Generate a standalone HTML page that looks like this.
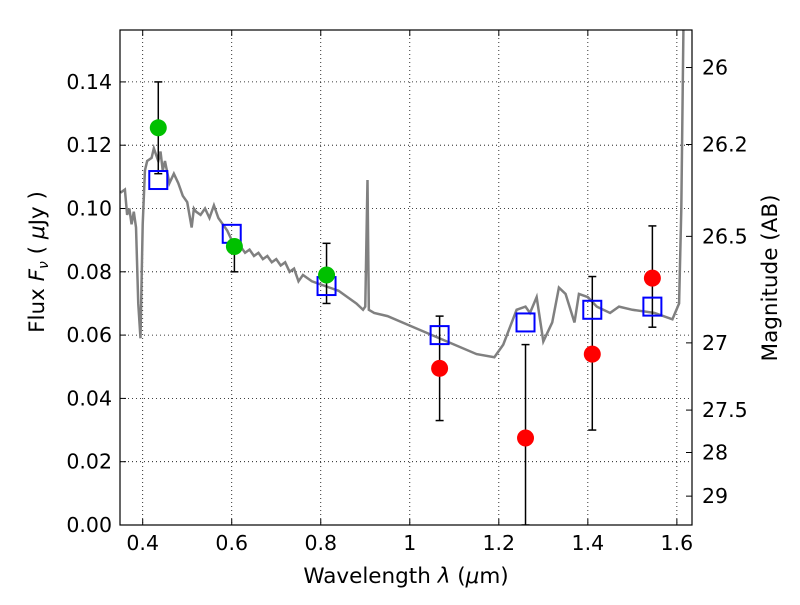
<!DOCTYPE html>
<html><head><meta charset="utf-8"><style>
body{margin:0;background:#fff;font-family:"Liberation Sans","DejaVu Sans",sans-serif}
svg text{font-family:"DejaVu Sans","Liberation Sans",sans-serif}
</style></head><body>
<svg id="chart" width="800" height="600" xmlns="http://www.w3.org/2000/svg"></svg>
<script>
const xTicks=[0.4,0.6,0.8,1.0,1.2,1.4,1.6];
const xTickLabels=["0.4","0.6","0.8","1","1.2","1.4","1.6"];
const yTicks=[0,0.02,0.04,0.06,0.08,0.10,0.12,0.14];
const yTickLabels=["0.00","0.02","0.04","0.06","0.08","0.10","0.12","0.14"];
const magTicks=[26,26.2,26.5,27,27.5,28,29];
const magTickLabels=["26","26.2","26.5","27","27.5","28","29"];
const specX=[0.35,0.36,0.365,0.37,0.375,0.38,0.385,0.39,0.395,0.40,0.405,0.41,0.42,0.425,0.43,0.435,0.44,0.445,0.45,0.46,0.47,0.48,0.49,0.50,0.51,0.515,0.52,0.53,0.54,0.55,0.56,0.57,0.58,0.59,0.60,0.61,0.62,0.63,0.64,0.65,0.66,0.67,0.68,0.69,0.70,0.71,0.72,0.73,0.74,0.75,0.76,0.78,0.80,0.82,0.84,0.86,0.88,0.895,0.90,0.905,0.908,0.92,0.95,1.00,1.05,1.10,1.15,1.19,1.21,1.24,1.26,1.27,1.285,1.30,1.32,1.335,1.35,1.37,1.38,1.40,1.42,1.45,1.47,1.50,1.55,1.59,1.605,1.61,1.615];
const specY=[0.105,0.106,0.098,0.100,0.095,0.099,0.094,0.070,0.059,0.095,0.112,0.115,0.116,0.119,0.117,0.115,0.118,0.112,0.115,0.108,0.111,0.108,0.104,0.102,0.094,0.100,0.099,0.098,0.100,0.097,0.101,0.097,0.095,0.093,0.090,0.089,0.088,0.086,0.087,0.085,0.086,0.084,0.085,0.083,0.084,0.082,0.083,0.080,0.081,0.077,0.079,0.077,0.076,0.075,0.074,0.072,0.070,0.068,0.069,0.109,0.068,0.067,0.066,0.063,0.060,0.057,0.054,0.053,0.057,0.068,0.069,0.067,0.072,0.058,0.064,0.075,0.073,0.064,0.073,0.072,0.069,0.067,0.069,0.068,0.067,0.065,0.070,0.100,0.160];
const greenX=[0.435,0.606,0.813];
const greenY=[0.1255,0.088,0.079];
const greenLo=[0.111,0.080,0.070];
const greenHi=[0.140,0.088,0.089];
const redX=[1.067,1.26,1.41,1.545];
const redY=[0.0495,0.0275,0.054,0.078];
const redLo=[0.033,0.0,0.030,0.0625];
const redHi=[0.066,0.057,0.0785,0.0945];
const modelX=[0.435,0.6,0.813,1.067,1.26,1.41,1.545];
const modelY=[0.109,0.092,0.0755,0.060,0.064,0.068,0.069];

const L=120,R=692,T=30,B=525,X0=0.349,X1=1.634,Y0=0,Y1=0.1564;
const sx=v=>L+(v-X0)/(X1-X0)*(R-L);
const sy=v=>B-(v-Y0)/(Y1-Y0)*(B-T);
const svg=document.getElementById('chart');
const NS="http://www.w3.org/2000/svg";
function mk(tag,attrs,parent){const e=document.createElementNS(NS,tag);for(const k in attrs)e.setAttribute(k,attrs[k]);(parent||svg).appendChild(e);return e;}
const clip=mk('clipPath',{id:'pc'});mk('rect',{x:L,y:T,width:R-L,height:B-T},clip);
xTicks.forEach((t,i)=>{const x=sx(t);
 const g=mk('line',{x1:x,x2:x,y1:T,y2:B,stroke:'#000','stroke-dasharray':'1,3','stroke-width':0.8});
 
 mk('line',{x1:x,x2:x,y1:B,y2:B-6,stroke:'#000'});mk('line',{x1:x,x2:x,y1:T,y2:T+6,stroke:'#000'});
 const tx=mk('text',{x:x,y:B+25,'text-anchor':'middle','font-size':20.5});tx.textContent=xTickLabels[i];
 });
yTicks.forEach((t,i)=>{const y=sy(t);
 const g=mk('line',{x1:L,x2:R,y1:y,y2:y,stroke:'#000','stroke-dasharray':'1,3','stroke-width':0.8});
 
 mk('line',{x1:L,x2:L+6,y1:y,y2:y,stroke:'#000'});
 const tx=mk('text',{x:L-8,y:y+7,'text-anchor':'end','font-size':20.5});tx.textContent=yTickLabels[i];
 });
magTicks.forEach((m,i)=>{const f=Math.pow(10,(23.9-m)/2.5);const y=sy(f);
 mk('line',{x1:R,x2:R-6,y1:y,y2:y,stroke:'#000'});
 const tx=mk('text',{x:R+10,y:y+7,'font-size':20.5});tx.textContent=magTickLabels[i];
 });
const g=mk('g',{'clip-path':'url(#pc)'});
const sp=mk('polyline',{points:specX.map((x,i)=>sx(x)+','+sy(specY[i])).join(' '),fill:'none',stroke:'#808080','stroke-width':2.5},g);

function err(xs,lo,hi,name){xs.forEach((x,i)=>{const X=sx(x);
 const e=mk('g',{stroke:'#000','stroke-width':1.5},g);
 
 mk('line',{x1:X,x2:X,y1:sy(lo[i]),y2:sy(hi[i])},e);
 mk('line',{x1:X-4,x2:X+4,y1:sy(lo[i]),y2:sy(lo[i])},e);
 mk('line',{x1:X-4,x2:X+4,y1:sy(hi[i]),y2:sy(hi[i])},e);});}
err(greenX,greenLo,greenHi,'green-error-bar');err(redX,redLo,redHi,'red-error-bar');
modelX.forEach((x,i)=>{const r=mk('rect',{x:sx(x)-9,y:sy(modelY[i])-9,width:18,height:18,fill:'none',stroke:'#0000ff','stroke-width':2},g);
 });
greenX.forEach((x,i)=>{const c=mk('circle',{cx:sx(x),cy:sy(greenY[i]),r:8.5,fill:'#00c000'},g);
 });
redX.forEach((x,i)=>{const c=mk('circle',{cx:sx(x),cy:sy(redY[i]),r:8.5,fill:'#ff0000'},g);
 });
const fr=mk('rect',{x:L,y:T,width:R-L,height:B-T,fill:'none',stroke:'#000','stroke-width':1.2});

const xl=mk('text',{x:406,y:583,'text-anchor':'middle','font-size':21.5});
xl.innerHTML='Wavelength  <tspan font-style="italic">λ</tspan> (<tspan font-style="italic">μ</tspan>m)';

const yl=mk('text',{x:0,y:0,'text-anchor':'middle','font-size':21.5,transform:'translate(44,262) rotate(-90)'});
yl.innerHTML='Flux  <tspan font-style="italic">F</tspan><tspan font-style="italic" font-size="14" dy="4">ν</tspan><tspan dy="-4">  (  </tspan><tspan font-style="italic">μ</tspan>Jy )';

const rl=mk('text',{x:0,y:0,'text-anchor':'middle','font-size':21.5,transform:'translate(777,278) rotate(-90)'});
rl.textContent='Magnitude (AB)';

</script>
</body></html>
